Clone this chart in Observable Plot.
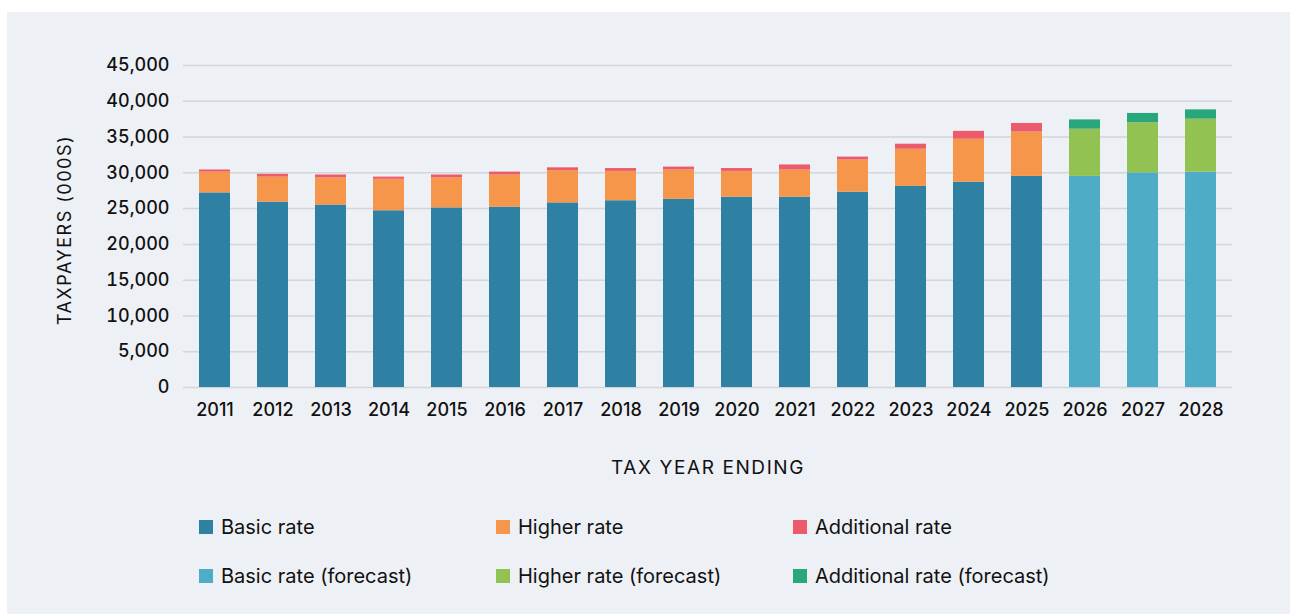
<!DOCTYPE html>
<html><head><meta charset="utf-8">
<script src="https://cdn.jsdelivr.net/npm/d3@7"></script>
<script src="https://cdn.jsdelivr.net/npm/@observablehq/plot@0.6"></script>
<style>
body{margin:0;background:#fff;font-family:Inter, "Noto Sans", sans-serif;color:#111;}
#panel{position:absolute;left:7px;top:12px;width:1283px;height:602px;background:#edf0f5;overflow:hidden;}
#chart{position:absolute;left:0;top:0;}
#ytitle{position:absolute;left:57px;top:218px;transform:translate(-50%,-50%) rotate(-90deg);font-size:18px;letter-spacing:1.5px;white-space:nowrap;}
#xtitle{position:absolute;left:701px;top:455px;transform:translate(-50%,-50%);font-size:19px;letter-spacing:1.6px;white-space:nowrap;}
.leg{position:absolute;display:flex;align-items:center;font-size:20px;white-space:nowrap;}
.leg span.sw{display:inline-block;width:14px;height:14px;margin-right:8px;}
</style></head>
<body>
<div id="panel">
  <div id="chart"></div>
  <div id="ytitle">TAXPAYERS (000S)</div>
  <div id="xtitle">TAX YEAR ENDING</div>
  <div id="legend"></div>
</div>
<script>
const years = [2011,2012,2013,2014,2015,2016,2017,2018,2019,2020,2021,2022,2023,2024,2025,2026,2027,2028];
const forecastYears = [2026,2027,2028];
const basic = [27200,25900,25500,24700,25100,25200,25800,26100,26300,26600,26600,27300,28100,28700,29500,29500,30000,30100];
const higher = [2900,3500,3800,4400,4200,4500,4500,4100,4100,3600,3800,4500,5200,6000,6200,6600,7000,7400];
const additional = [300,400,400,300,400,400,400,400,400,400,700,400,700,1100,1200,1300,1300,1300];
const seriesNames = ["Basic rate","Higher rate","Additional rate","Basic rate (forecast)","Higher rate (forecast)","Additional rate (forecast)"];
const seriesColors = ["#2e81a3","#f5964a","#ec5b6c","#4eacc6","#92c251","#2aa67b"];
const yTicks = [0,5000,10000,15000,20000,25000,30000,35000,40000,45000];

const rows = [];
years.forEach((yr, i) => {
  const f = forecastYears.includes(yr);
  rows.push({year: String(yr), series: f ? seriesNames[3] : seriesNames[0], value: basic[i]});
  rows.push({year: String(yr), series: f ? seriesNames[4] : seriesNames[1], value: higher[i]});
  rows.push({year: String(yr), series: f ? seriesNames[5] : seriesNames[2], value: additional[i]});
});

const chart = Plot.plot({
  width: 1283, height: 430,
  marginLeft: 176, marginRight: 58, marginTop: 53, marginBottom: 55,
  style: {background: "transparent", fontFamily: "Inter, 'Noto Sans', sans-serif", fontSize: "17px", color: "#111", fontWeight: 500},
  x: {type: "band", domain: years.map(String), paddingInner: 0.47, paddingOuter: 0.235},
  y: {domain: [0, 45000]},
  color: {domain: seriesNames, range: seriesColors},
  marks: [
    Plot.gridY(yTicks, {stroke: "#d2d5da", strokeOpacity: 1, strokeWidth: 1.5}),
    Plot.barY(rows, {x: "year", y: "value", fill: "series"}),
    Plot.axisY(yTicks, {tickSize: 0, tickPadding: 14, tickFormat: d3.format(","), label: null, fontSize: 18}),
    Plot.axisX({tickSize: 0, tickPadding: 16, label: null, fontSize: 18})
  ]
});
document.getElementById("chart").appendChild(chart);

const legend = document.getElementById("legend");
const colLeft = [192, 489, 786];
const rowTop = [515, 564];
seriesNames.forEach((name, i) => {
  const d = document.createElement("div");
  d.className = "leg";
  d.style.left = colLeft[i % 3] + "px";
  d.style.top = (rowTop[Math.floor(i / 3)] - 12) + "px";
  d.style.height = "24px";
  const sw = document.createElement("span");
  sw.className = "sw";
  sw.style.background = seriesColors[i];
  d.appendChild(sw);
  d.appendChild(document.createTextNode(name));
  legend.appendChild(d);
});
</script>
</body></html>
